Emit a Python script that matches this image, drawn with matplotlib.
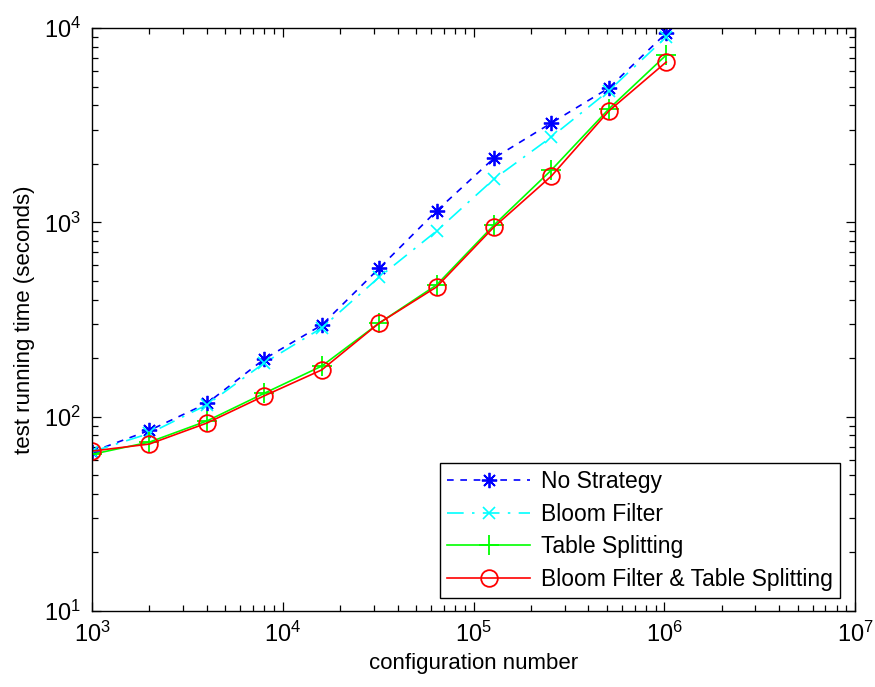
import matplotlib
matplotlib.use("Agg")
import matplotlib.pyplot as plt
from matplotlib.ticker import LogLocator, NullFormatter

plt.rcParams['font.family'] = ['Liberation Sans', 'DejaVu Sans']
plt.rcParams['mathtext.fontset'] = 'custom'
plt.rcParams['mathtext.rm'] = 'Liberation Sans'

# Data
config_number = [1000, 2000, 4000, 8000, 16000, 32000, 64000, 128000, 256000, 512000, 1024000]
no_strategy = [66, 85, 117, 198, 296, 580, 1145, 2140, 3245, 4910, 9420]
bloom_filter = [66, 82, 115, 189, 286, 522, 902, 1670, 2750, 4750, 8990]
table_splitting = [64, 74, 95, 132, 182, 303, 476, 968, 1858, 3830, 7260]
bloom_and_table = [66.5, 72.3, 92.7, 128, 174, 303, 465, 946, 1730, 3740, 6680]
labels = ["No Strategy", "Bloom Filter", "Table Splitting", "Bloom Filter & Table Splitting"]

fig = plt.figure(figsize=(8.75, 6.87), dpi=100)
ax = fig.add_axes([92/875, 1-611/687, (855-92)/875, (611-28)/687])

ax.plot(config_number, no_strategy, color=(0, 0, 1), linestyle=(0, (4, 4)), linewidth=1.2,
        marker=(8, 2, 0), markersize=11, markeredgewidth=1.3, label=labels[0])
ax.plot(config_number, bloom_filter, color=(0, 1, 1), linestyle=(0, (10, 5, 1.5, 5)), linewidth=1.2,
        marker='x', markersize=9, markeredgewidth=1.2, label=labels[1])
ax.plot(config_number, table_splitting, color=(0, 1, 0), linestyle='-', linewidth=1.2,
        marker='+', markersize=14, markeredgewidth=1.3, label=labels[2])
ax.plot(config_number, bloom_and_table, color=(1, 0, 0), linestyle='-', linewidth=1.2,
        marker='o', markersize=12, markerfacecolor='none', markeredgewidth=1.3, label=labels[3])

ax.set_xscale('log')
ax.set_yscale('log')
ax.set_xlim(1e3, 1e7)
ax.set_ylim(1e1, 1e4)

ax.xaxis.set_major_locator(LogLocator(base=10, numticks=10))
ax.yaxis.set_major_locator(LogLocator(base=10, numticks=10))
ax.xaxis.set_minor_locator(LogLocator(base=10, subs=range(2, 10), numticks=50))
ax.yaxis.set_minor_locator(LogLocator(base=10, subs=range(2, 10), numticks=50))
ax.xaxis.set_minor_formatter(NullFormatter())
ax.yaxis.set_minor_formatter(NullFormatter())

ax.tick_params(which='both', direction='in', top=True, right=True, width=0.9, colors='black')
ax.tick_params(which='major', length=6.5, labelsize=17, pad=8)
ax.tick_params(which='minor', length=4.3)
for s in ax.spines.values():
    s.set_linewidth(1.0)

ax.set_xlabel("configuration number", fontsize=16, labelpad=4)
ax.set_ylabel("test running time (seconds)", fontsize=16, labelpad=6)

leg = ax.legend(loc='lower right', bbox_to_anchor=(840/875, 1-598/687), bbox_transform=fig.transFigure,
                fontsize=16.5, handlelength=3.6, handletextpad=0.5, labelspacing=0.42,
                borderpad=0.3, borderaxespad=0, fancybox=False, frameon=True, edgecolor='black',
                framealpha=1)
leg.get_frame().set_linewidth(1.0)

fig.savefig("out.png", dpi=100)
